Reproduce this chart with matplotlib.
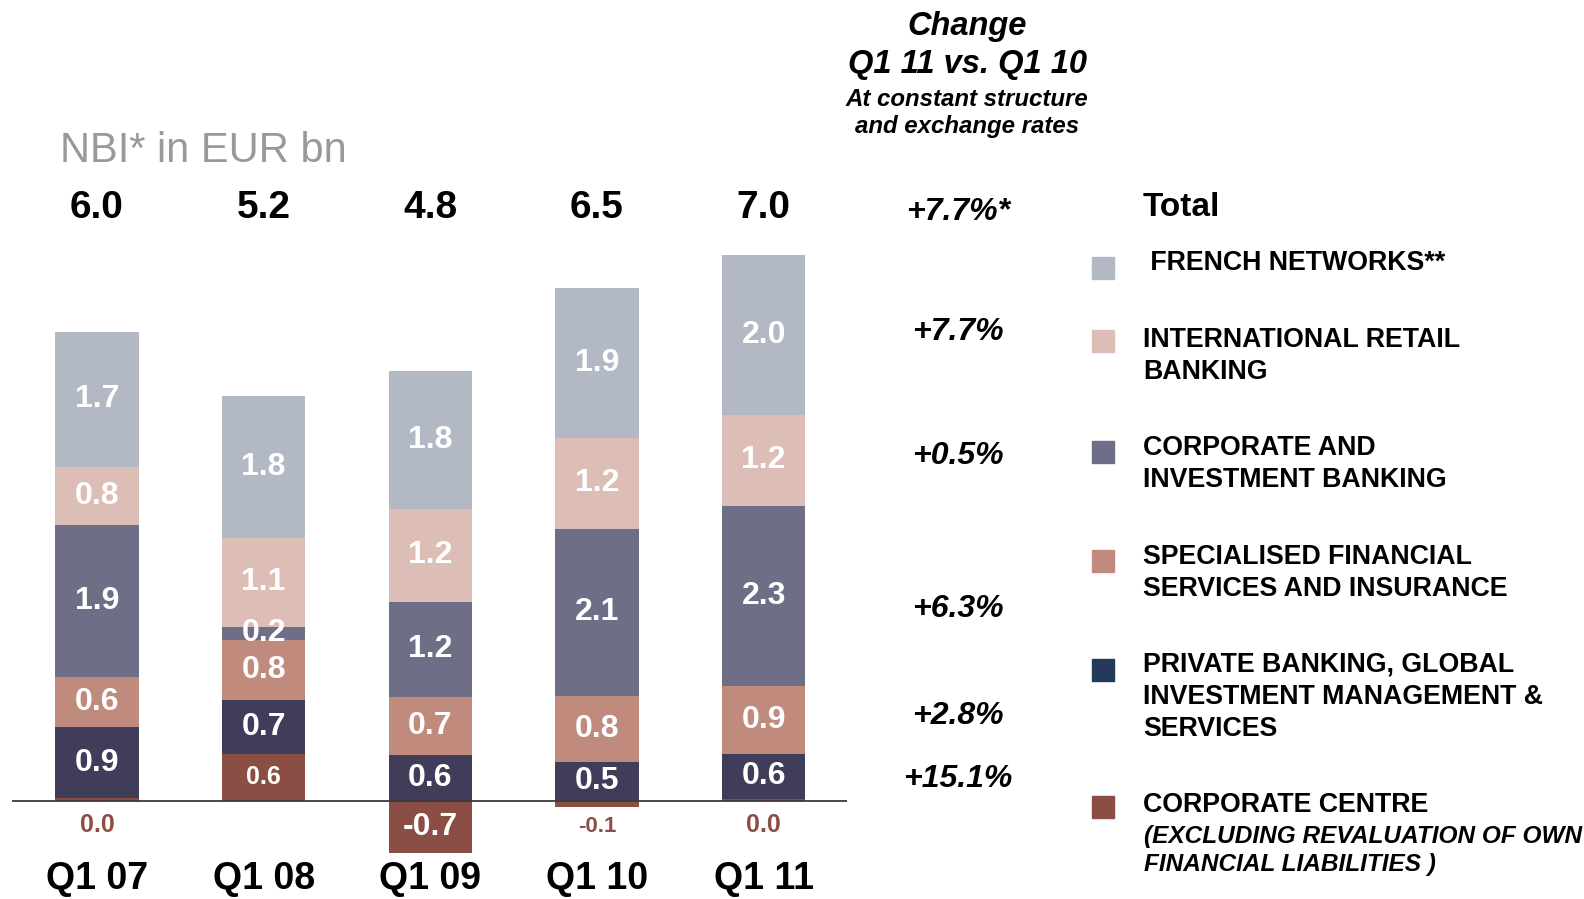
import matplotlib
matplotlib.use("Agg")
import matplotlib.pyplot as plt
import matplotlib.font_manager as fm
from matplotlib.transforms import blended_transform_factory
import numpy as np

# ---------------- data ----------------
quarters = ["Q1 07", "Q1 08", "Q1 09", "Q1 10", "Q1 11"]
corporate_centre = [0.04, 0.60, -0.66, -0.08, 0.03]
private_banking = [0.90, 0.69, 0.59, 0.50, 0.57]
specialised_fs = [0.64, 0.76, 0.73, 0.84, 0.87]
corporate_ib = [1.93, 0.17, 1.22, 2.13, 2.29]
intl_retail = [0.75, 1.13, 1.18, 1.16, 1.16]
french_networks = [1.72, 1.81, 1.76, 1.91, 2.04]

change_labels = ["+7.7%*", "+7.7%", "+0.5%", "+6.3%", "+2.8%", "+15.1%"]

legend_labels = [
    " FRENCH NETWORKS**",
    "INTERNATIONAL RETAIL\nBANKING",
    "CORPORATE AND\nINVESTMENT BANKING",
    "SPECIALISED FINANCIAL\nSERVICES AND INSURANCE",
    "PRIVATE BANKING, GLOBAL\nINVESTMENT MANAGEMENT &\nSERVICES",
    "CORPORATE CENTRE",
]
legend_note = "(EXCLUDING REVALUATION OF OWN\nFINANCIAL LIABILITIES )"

# ---------------- styles ----------------
C_FN = "#B2B9C4"
C_IRB = "#DCBEB6"
C_CIB = "#6E6E87"
C_SFS = "#C08A7C"
C_PB = "#3F3D5A"
C_PB_LEG = "#233B58"
C_CC = "#8B4E45"

names = {f.name for f in fm.fontManager.ttflist}
REG = "Liberation Sans" if "Liberation Sans" in names else "DejaVu Sans"
NARROW = "Liberation Sans Narrow" if "Liberation Sans Narrow" in names else REG

W, H = 1584, 899
fig = plt.figure(figsize=(W / 100, H / 100), dpi=100)
fig.patch.set_facecolor("white")

def fx(px):
    return px / W

def fy(py):
    return 1 - py / H

BASE = 801.0
SCALE = 78.5  # px per unit
ax = fig.add_axes([fx(12), 0, (847 - 12) / W, 1])
ax.set_xlim(-0.51, 4.5)
ax.set_ylim((BASE - H) / SCALE, BASE / SCALE)
ax.axis("off")

x = np.arange(len(quarters))
bw = 0.5

series = [
    (corporate_centre, C_CC),
    (private_banking, C_PB),
    (specialised_fs, C_SFS),
    (corporate_ib, C_CIB),
    (intl_retail, C_IRB),
    (french_networks, C_FN),
]

pos_bottom = np.zeros(len(quarters))
neg_bottom = np.zeros(len(quarters))
for si, (vals, col) in enumerate(series):
    vals = np.array(vals, dtype=float)
    bottoms = np.where(vals >= 0, pos_bottom, neg_bottom)
    ax.bar(x, vals, bw, bottom=bottoms, color=col, linewidth=0, zorder=2)
    for i, v in enumerate(vals):
        centre = bottoms[i] + v / 2
        txt = f"{v:.1f}"
        if si == 0:
            if abs(v) < 0.15:
                yoff = -0.31 if v >= 0 else -0.33
                ax.text(x[i], yoff, txt, ha="center", va="center",
                        color=C_CC, fontsize=16 if v < 0 else 18,
                        fontweight="bold", family=NARROW, zorder=4)
            else:
                fs = 23 if v < 0 else 18
                ax.text(x[i], centre, txt, ha="center", va="center",
                        color="white", fontsize=fs, fontweight="bold",
                        family=NARROW, zorder=4)
        else:
            ax.text(x[i], centre, txt, ha="center", va="center",
                    color="white", fontsize=23, fontweight="bold",
                    family=NARROW, zorder=4)
    pos_bottom += np.where(vals >= 0, vals, 0)
    neg_bottom += np.where(vals < 0, vals, 0)

totals = np.sum([v for v, _ in series], axis=0)

ax.axhline(0, color="#3A3A3A", lw=1.3, zorder=3)

tr = blended_transform_factory(ax.transData, fig.transFigure)
for i, t in enumerate(totals):
    ax.text(x[i], fy(208), f"{t:.1f}", transform=tr, ha="center", va="center",
            fontsize=28, fontweight="bold", family=REG, color="black")
    ax.text(x[i], fy(897), quarters[i], transform=tr, ha="center", va="bottom",
            fontsize=27, fontweight="bold", family=NARROW, color="black")

# title
fig.text(fx(60), fy(151), "NBI* in EUR bn", ha="left", va="center",
         fontsize=30, color="#999999", family=REG)

# change header
fig.text(fx(967), fy(26), "Change", ha="center", va="center", fontsize=23.5,
         fontweight="bold", style="italic", family=REG)
fig.text(fx(967), fy(65), "Q1 11 vs. Q1 10", ha="center", va="center", fontsize=23.5,
         fontweight="bold", style="italic", family=REG)
fig.text(fx(967), fy(99), "At constant structure", ha="center", va="center",
         fontsize=17.3, fontweight="bold", style="italic", family=REG)
fig.text(fx(967), fy(127), "and exchange rates", ha="center", va="center",
         fontsize=17.3, fontweight="bold", style="italic", family=REG)

change_y = [212, 332, 456, 609, 716, 779]
for lab, py in zip(change_labels, change_y):
    fig.text(fx(958), fy(py), lab, ha="center", va="center", fontsize=23,
             fontweight="bold", style="italic", family=REG)

# legend
fig.text(fx(1143), fy(207), "Total", ha="left", va="center", fontsize=24,
         fontweight="bold", family=REG)
leg_cols = [C_FN, C_IRB, C_CIB, C_SFS, C_PB_LEG, C_CC]
sq_y = [268, 341, 452, 561, 670, 807]
txt_top = [263, 340, 448, 557, 665, 805]
for col, sy, ty, lab in zip(leg_cols, sq_y, txt_top, legend_labels):
    fig.patches.append(plt.Rectangle((fx(1092), fy(sy + 11)), 22 / W, 22 / H,
                                     transform=fig.transFigure, color=col,
                                     figure=fig))
    fig.text(fx(1143), fy(ty - 13), lab, ha="left", va="top", fontsize=19.3,
             fontweight="bold", family=REG, linespacing=1.31)
fig.text(fx(1144), fy(837 - 12), legend_note, ha="left", va="top", fontsize=17.6,
         fontweight="bold", style="italic", family=REG, linespacing=1.27)

fig.savefig("out.png", dpi=100, facecolor="white")
